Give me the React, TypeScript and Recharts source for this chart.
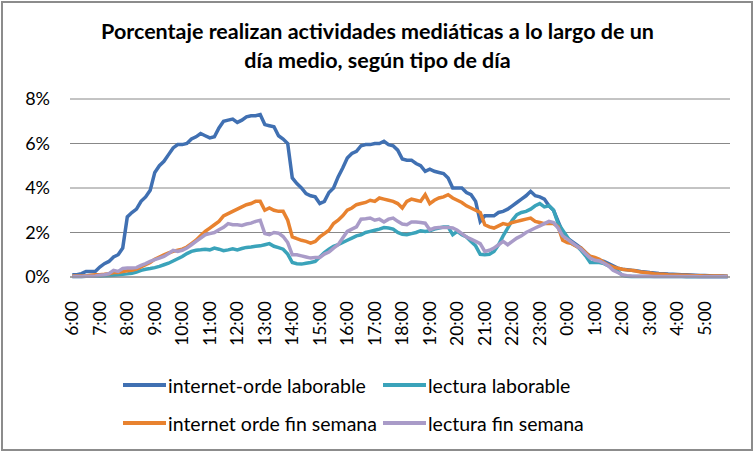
import React from "react";
import { LineChart, Line, XAxis, YAxis, CartesianGrid } from "recharts";

// 10-minute slots starting at 6:00, one full day
const slotCount = 144;
const timeSlots = Array.from({ length: slotCount }, (_, i) => {
  const m = 360 + i * 10;
  const h = Math.floor(m / 60) % 24;
  return `${h}:${String(m % 60).padStart(2, "0")}`;
});

const yTicks = [0, 2, 4, 6, 8];

// % of people doing each activity in each slot
const internetLaborable = [
  0.1, 0.1, 0.15, 0.25, 0.25, 0.25, 0.45, 0.6, 0.7, 0.9, 1.0, 1.3,
  2.7, 2.9, 3.05, 3.4, 3.6, 3.9, 4.7, 5.0, 5.2, 5.5, 5.8, 5.95,
  5.95, 6.0, 6.2, 6.3, 6.45, 6.35, 6.25, 6.3, 6.7, 7.0, 7.05, 7.1,
  6.95, 7.05, 7.2, 7.25, 7.25, 7.3, 6.85, 6.8, 6.75, 6.35, 6.2, 6.0,
  4.45, 4.2, 4.0, 3.75, 3.65, 3.6, 3.3, 3.4, 3.8, 4.0, 4.5, 4.9,
  5.35, 5.55, 5.65, 5.9, 5.95, 5.95, 6.0, 6.0, 6.1, 5.95, 5.9, 5.7,
  5.3, 5.25, 5.25, 5.1, 5.0, 4.75, 4.85, 4.75, 4.7, 4.65, 4.45, 4.0,
  4.0, 4.0, 3.8, 3.7, 3.4, 2.5, 2.75, 2.75, 2.75, 2.9, 2.95, 3.05,
  3.2, 3.35, 3.5, 3.65, 3.85, 3.65, 3.6, 3.5, 3.2, 3.0, 2.5, 2.0,
  1.75, 1.6, 1.45, 1.3, 1.1, 0.9, 0.85, 0.75, 0.7, 0.6, 0.5, 0.4,
  0.35, 0.33, 0.3, 0.28, 0.25, 0.23, 0.2, 0.18, 0.16, 0.15, 0.13, 0.12,
  0.11, 0.1, 0.1, 0.09, 0.08, 0.07, 0.07, 0.06, 0.05, 0.04, 0.04, 0.03,
];

const lecturaLaborable = [
  0.02, 0.02, 0.02, 0.03, 0.03, 0.04, 0.05, 0.06, 0.07, 0.08, 0.1, 0.12,
  0.14, 0.17, 0.22, 0.3, 0.35, 0.38, 0.42, 0.48, 0.55, 0.62, 0.72, 0.82,
  0.92, 1.05, 1.15, 1.2, 1.22, 1.25, 1.22, 1.3, 1.25, 1.18, 1.22, 1.27,
  1.22, 1.28, 1.33, 1.35, 1.38, 1.4, 1.45, 1.5, 1.38, 1.32, 1.25, 1.03,
  0.65, 0.6, 0.58, 0.62, 0.65, 0.7, 0.9, 1.1, 1.25, 1.38, 1.45, 1.55,
  1.65, 1.75, 1.85, 1.9, 2.0, 2.05, 2.1, 2.15, 2.22, 2.2, 2.15, 2.0,
  1.92, 1.9, 1.95, 2.0, 2.08, 2.05, 2.08, 2.15, 2.2, 2.25, 2.25, 1.9,
  2.05, 1.9, 1.8, 1.6, 1.4, 1.02, 1.0, 1.02, 1.15, 1.45, 1.85, 2.2,
  2.55, 2.8, 2.9, 2.95, 3.05, 3.2, 3.3, 3.15, 3.2, 3.0, 2.4, 2.1,
  1.8, 1.5, 1.4, 1.2, 0.95, 0.65, 0.65, 0.65, 0.6, 0.5, 0.42, 0.25,
  0.08, 0.03, 0.02, 0.02, 0.02, 0.02, 0.02, 0.02, 0.02, 0.02, 0.02, 0.02,
  0.02, 0.02, 0.01, 0.01, 0.01, 0.01, 0.01, 0.01, 0.01, 0.01, 0.01, 0.01,
];

const internetFinSemana = [
  0.05, 0.05, 0.05, 0.05, 0.08, 0.1, 0.1, 0.12, 0.15, 0.2, 0.2, 0.25,
  0.28, 0.3, 0.35, 0.45, 0.55, 0.65, 0.8, 0.9, 1.0, 1.08, 1.15, 1.2,
  1.25, 1.35, 1.5, 1.65, 1.85, 2.05, 2.2, 2.35, 2.5, 2.75, 2.85, 2.95,
  3.05, 3.15, 3.25, 3.3, 3.4, 3.4, 3.0, 3.1, 3.0, 2.95, 2.95, 2.55,
  1.8, 1.72, 1.65, 1.6, 1.52, 1.6, 1.8, 1.95, 2.1, 2.4, 2.55, 2.75,
  3.0, 3.1, 3.25, 3.3, 3.35, 3.45, 3.4, 3.55, 3.5, 3.45, 3.4, 3.3,
  3.1, 3.4, 3.5, 3.45, 3.4, 3.7, 3.3, 3.45, 3.55, 3.6, 3.7, 3.55,
  3.45, 3.35, 3.2, 3.1, 3.0, 2.9, 2.35, 2.25, 2.2, 2.3, 2.4, 2.35,
  2.45, 2.5, 2.55, 2.6, 2.65, 2.5, 2.45, 2.4, 2.4, 2.4, 2.25, 1.65,
  1.55, 1.5, 1.38, 1.3, 1.1, 0.93, 0.88, 0.8, 0.65, 0.53, 0.45, 0.4,
  0.35, 0.32, 0.3, 0.27, 0.22, 0.2, 0.18, 0.15, 0.13, 0.12, 0.1, 0.09,
  0.09, 0.08, 0.08, 0.07, 0.06, 0.06, 0.05, 0.05, 0.04, 0.04, 0.03, 0.03,
];

const lecturaFinSemana = [
  0.02, 0.02, 0.02, 0.03, 0.03, 0.05, 0.08, 0.1, 0.15, 0.3, 0.25, 0.38,
  0.4, 0.4, 0.42, 0.52, 0.6, 0.7, 0.78, 0.85, 0.92, 1.05, 1.2, 1.15,
  1.2, 1.3, 1.45, 1.6, 1.75, 1.9, 1.95, 2.0, 2.12, 2.23, 2.4, 2.35,
  2.35, 2.32, 2.38, 2.42, 2.5, 2.55, 1.95, 1.9, 2.0, 1.97, 1.82, 1.55,
  1.0, 1.0, 0.95, 0.9, 0.85, 0.88, 0.88, 1.03, 1.12, 1.3, 1.45, 1.75,
  2.05, 2.15, 2.25, 2.6, 2.62, 2.65, 2.55, 2.6, 2.47, 2.6, 2.65, 2.5,
  2.38, 2.35, 2.47, 2.47, 2.45, 2.42, 2.12, 2.2, 2.22, 2.23, 2.23, 2.2,
  2.1, 1.95, 1.8, 1.7, 1.6, 1.5, 1.15, 1.2, 1.3, 1.45, 1.6, 1.45,
  1.6, 1.75, 1.85, 2.0, 2.1, 2.2, 2.3, 2.4, 2.5, 2.45, 2.2, 1.85,
  1.7, 1.55, 1.4, 1.25, 1.05, 0.85, 0.75, 0.72, 0.62, 0.5, 0.3, 0.2,
  0.1, 0.06, 0.04, 0.03, 0.03, 0.03, 0.03, 0.02, 0.02, 0.02, 0.02, 0.02,
  0.02, 0.02, 0.02, 0.02, 0.02, 0.01, 0.01, 0.01, 0.01, 0.01, 0.01, 0.01,
];

const series = [
  { key: "internetLab", name: "internet-orde laborable", color: "#4070B2", values: internetLaborable },
  { key: "lecturaLab", name: "lectura laborable", color: "#3AA3BA", values: lecturaLaborable },
  { key: "internetFin", name: "internet orde fin semana", color: "#E8822F", values: internetFinSemana },
  { key: "lecturaFin", name: "lectura fin semana", color: "#A99BC8", values: lecturaFinSemana },
];

const chartData = timeSlots.map((t, i) => {
  const row: Record<string, string | number> = { t };
  series.forEach((s) => {
    row[s.key] = s.values[i];
  });
  return row;
});

const FONT = "Lato, 'Open Sans', sans-serif";

function HourTick({ x, y, payload }: any) {
  return (
    <text
      x={x}
      y={y}
      transform={`rotate(-90 ${x} ${y})`}
      textAnchor="end"
      dy="0.35em"
      fontSize={17.5}
      fontFamily={FONT}
      fill="#000"
    >
      {payload.value}
    </text>
  );
}

// legend positions (row, column) as in the original
const legendSlots = [
  { left: 123, top: 385 },
  { left: 383, top: 385 },
  { left: 123, top: 423 },
  { left: 383, top: 423 },
];

export default function App() {
  return (
    <div
      style={{
        position: "absolute",
        left: 0,
        top: 0,
        width: 755,
        height: 453,
        background: "#fff",
        fontFamily: FONT,
      }}
    >
      <div
        style={{
          position: "absolute",
          left: 1,
          top: 1,
          width: 752,
          height: 450,
          border: "2px solid #8c8c8c",
          boxSizing: "border-box",
        }}
      />
      <div
        style={{
          position: "absolute",
          left: 0,
          top: 17,
          width: 755,
          textAlign: "center",
          fontSize: 21.5,
          fontWeight: 700,
          lineHeight: "29px",
          color: "#000",
        }}
      >
        Porcentaje realizan actividades mediáticas a lo largo de un
        <br />
        día medio, según tipo de día
      </div>
      <div style={{ position: "absolute", left: 0, top: 0 }}>
        <LineChart
          width={755}
          height={453}
          data={chartData}
          margin={{ top: 99, right: 25, bottom: 116, left: 0 }}
        >
          <CartesianGrid vertical={false} stroke="#888888" strokeWidth={1} />
          <XAxis
            dataKey="t"
            interval={5}
            height={60}
            tickLine={false}
            tickMargin={18}
            axisLine={{ stroke: "#888888" }}
            padding={{ left: 2.3, right: 2.3 }}
            tick={<HourTick />}
          />
          <YAxis
            width={70}
            domain={[0, 8]}
            ticks={yTicks}
            tickFormatter={(v) => `${v}%`}
            axisLine={false}
            tickLine={false}
            tickMargin={14}
            tick={{ fontSize: 18, fill: "#000", fontFamily: FONT }}
          />
          {series.map((s) => (
            <Line
              key={s.key}
              dataKey={s.key}
              name={s.name}
              type="linear"
              stroke={s.color}
              strokeWidth={3.5}
              dot={false}
              isAnimationActive={false}
            />
          ))}
        </LineChart>
      </div>
      {series.map((s, i) => (
        <div
          key={s.key}
          style={{
            position: "absolute",
            left: legendSlots[i].left,
            top: legendSlots[i].top - 12,
            height: 24,
            display: "flex",
            alignItems: "center",
            fontSize: 19.5,
            color: "#000",
            whiteSpace: "nowrap",
          }}
        >
          <svg width={45} height={24} style={{ display: "block" }}>
            <line x1={0} y1={12} x2={43} y2={12} stroke={s.color} strokeWidth={4} />
          </svg>
          <span>{s.name}</span>
        </div>
      ))}
    </div>
  );
}
